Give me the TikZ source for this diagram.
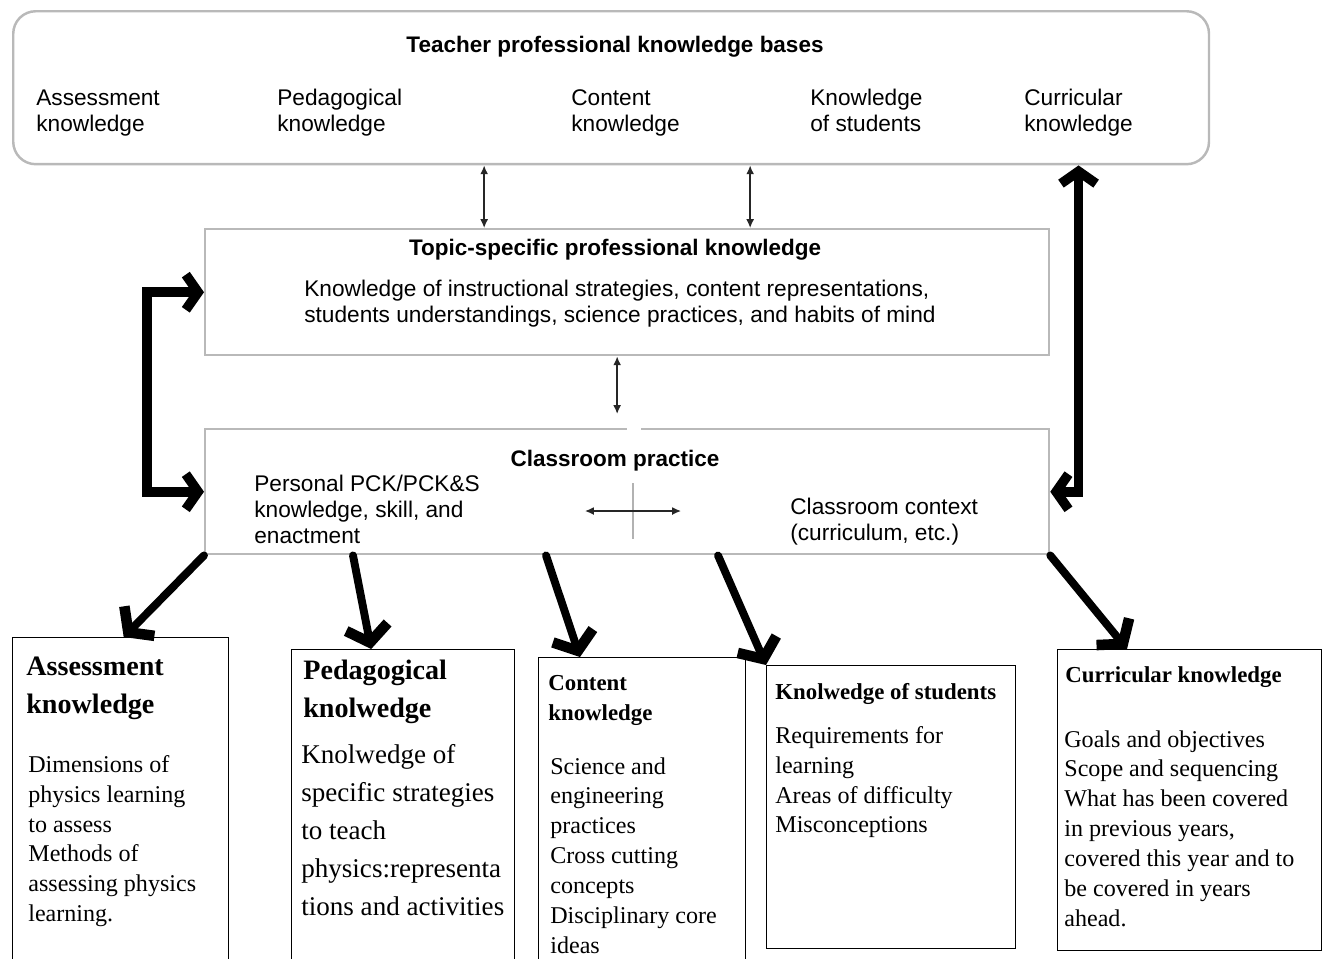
\documentclass[tikz,border=0pt]{standalone}
\usepackage{fontspec}
\setmainfont{Liberation Serif}
\setsansfont{Liberation Sans}
\usetikzlibrary{arrows.meta, calc, positioning}

\tikzset{
	softbox/.style={rectangle, draw=gray!55, line width=1.4pt, anchor=north west, inner sep=0pt},
	listbox/.style={rectangle, draw=black, line width=0.8pt, anchor=north west, inner sep=0pt},
	sanslabel/.style={font=\sffamily\fontsize{12.9}{14.8}\selectfont, align=left, inner sep=0pt},
	sanshead/.style={font=\sffamily\bfseries\fontsize{12.8}{14.8}\selectfont, inner sep=0pt},
	bighead/.style={font=\bfseries\fontsize{16}{21.6}\selectfont, align=left, anchor=north west, inner sep=0pt},
	smallhead/.style={font=\bfseries\fontsize{13}{17}\selectfont, align=left, anchor=north west, inner sep=0pt},
	bodytext/.style={font=\fontsize{13.7}{17}\selectfont, align=left, anchor=north west, inner sep=0pt},
	bigbody/.style={font=\fontsize{15.4}{21.6}\selectfont, align=left, anchor=north west, inner sep=0pt},
	thinarrow/.style={{Latex[length=5pt,width=4.5pt]}-{Latex[length=5pt,width=4.5pt]}, line width=0.8pt, draw=black!85},
	bigarrow/.style={line width=4.5pt, line cap=round, -{Straight Barb[length=9pt,width=24pt,line width=6pt]}},
	bigboth/.style={line width=5.5pt, {Straight Barb[length=7pt,width=20pt]}-{Straight Barb[length=7pt,width=20pt]}}
}

\begin{document}
\begin{tikzpicture}[x=0.02cm, y=-0.02cm, >=Latex]
	\useasboundingbox (0,0) rectangle (1324,958);
	
	% Knowledge bases
	\node[softbox, rounded corners=0.45cm, minimum width=23.92cm, minimum height=3.06cm] (tpk) at (12,10) {};
	\node[sanshead] (tpktitle) at (615,47) {Teacher professional knowledge bases};
	\node[sanslabel, anchor=west] (asskb) at (36,113) {Assessment\\knowledge};
	\node[sanslabel, anchor=west] (pedkb) at (277,113) {Pedagogical\\knowledge};
	\node[sanslabel, anchor=west] (conkb) at (571,113) {Content\\knowledge};
	\node[sanslabel, anchor=west] (stukb) at (810,110) {Knowledge\\of students};
	\node[sanslabel, anchor=west] (curkb) at (1024,113) {Curricular\\knowledge};
	
	% Topic-specific knowledge
	\node[softbox, minimum width=16.88cm, minimum height=2.52cm] (tsk) at (204,228) {};
	\node[sanshead] (tsktitle) at (615,250) {Topic-specific professional knowledge};
	\node[sanslabel, anchor=west] (tskbody) at (304,304) {Knowledge of instructional strategies, content representations,\\students understandings, science practices, and habits of mind};
	
	% Classroom practice
	\node[softbox, minimum width=16.88cm, minimum height=2.5cm] (cp) at (204,428) {};
	\fill[white] (627,424) rectangle (641,432);
	\node[sanshead] (cptitle) at (615,461) {Classroom practice};
	\node[sanslabel, anchor=west] (pck) at (254,509) {Personal PCK/PCK\&S\\knowledge, skill, and\\enactment};
	\node[sanslabel, anchor=west] (ctx) at (790,522) {Classroom context\\(curriculum, etc.)};
	\coordinate (mid) at (633,511);
	\draw[gray!60, line width=0.6pt] ($(mid)+(0,-28)$) -- ($(mid)+(0,28)$);
	\draw[thinarrow] ($(mid)+(-48,0)$) -- ($(mid)+(48,0)$);
	
	% Thin links between the upper boxes
	\coordinate (l1) at ($(tsk.north)+(-143,0)$);
	\coordinate (l2) at ($(tsk.north)+(123,0)$);
	\coordinate (l3) at ($(tsk.south)+(-10,0)$);
	\draw[thinarrow] (l1) -- (l1 |- tpk.south);
	\draw[thinarrow] (l2) -- (l2 |- tpk.south);
	\draw[thinarrow, shorten >=8] (l3) -- (l3 |- cp.north);
	
	% Bottom boxes
	\node[listbox, minimum width=4.32cm, minimum height=7cm] (assbox) at (12,637) {};
	\node[listbox, minimum width=4.46cm, minimum height=7cm] (pedbox) at (291,649) {};
	\node[listbox, minimum width=4.14cm, minimum height=7cm] (conbox) at (538,657) {};
	\node[listbox, minimum width=4.98cm, minimum height=5.66cm] (stubox) at (766,665) {};
	\node[listbox, minimum width=5.28cm, minimum height=6.02cm] (curbox) at (1057,649) {};
	
	\node[bighead] (asshead) at (26,657) {Assessment\\knowledge};
	\node[bodytext] (asstext) at (28,755) {Dimensions of\\physics learning\\to assess\\Methods of\\assessing physics\\learning.};
	
	\node[bighead] (pedhead) at (303,660) {Pedagogical\\knolwedge};
	\node[bigbody] (pedtext) at (301,744) {Knolwedge of\\specific strategies\\to teach\\physics:representa\\tions and activities};
	
	\node[smallhead] (conhead) at (548,675) {Content\\knowledge};
	\node[bodytext] (context) at (550,757) {Science and\\engineering\\practices\\Cross cutting\\concepts\\Disciplinary core\\ideas};
	
	\node[smallhead] (stuhead) at (775,683) {Knolwedge of students};
	\node[bodytext] (stutext) at (775,726) {Requirements for\\learning\\Areas of difficulty\\Misconceptions};
	
	\node[smallhead] (curhead) at (1065,666) {Curricular knowledge};
	\node[bodytext] (curtext) at (1064,730) {Goals and objectives\\Scope and sequencing\\What has been covered\\in previous years,\\covered this year and to\\be covered in years\\ahead.};
	
	% Thick arrows
	\draw[bigboth] (tsk.west) -- ++(-57,0) |- (cp.west);
	\draw[bigboth] (cp.east) -| (curkb |- tpk.south);
	\draw[bigarrow] (cp.south west) -- ($(assbox.north)+(3,0)$);
	\draw[bigarrow] ($(cp.south west)+(149,0)$) -- ($(pedbox.north)+(-32,0)$);
	\draw[bigarrow] ($(cp.south west)+(342,0)$) -- ($(conbox.north west)+(42,0)$);
	\draw[bigarrow] ($(cp.south west)+(514,0)$) -- (stubox.north west);
	\draw[bigarrow] (cp.south east) -- ($(curbox.north west)+(70,0)$);
	
\end{tikzpicture}
\end{document}
